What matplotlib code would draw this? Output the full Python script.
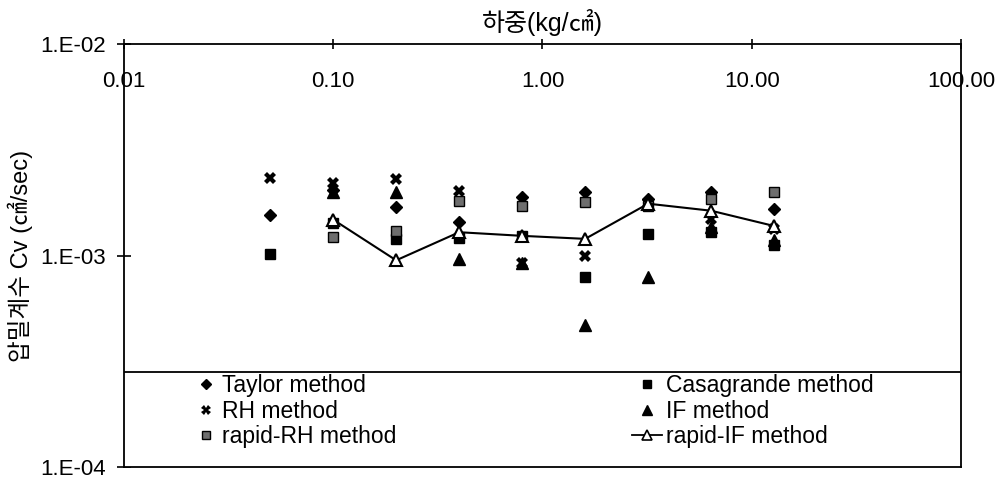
import matplotlib
matplotlib.use("Agg")
import matplotlib.pyplot as plt
import numpy as np
from matplotlib.patches import Rectangle
from matplotlib.lines import Line2D
from matplotlib.ticker import FixedLocator, FuncFormatter, NullLocator

plt.rcParams['font.family'] = ['Liberation Sans', 'Noto Sans CJK KR', 'DejaVu Sans']

# load steps (kg/cm2) and Cv values
load = [0.05, 0.1, 0.2, 0.4, 0.8, 1.6, 3.2, 6.4, 12.8]
nan = np.nan
taylor = [1.55e-3, 2.05e-3, 1.69e-3, 1.44e-3, 1.90e-3, 1.99e-3, 1.86e-3, 1.99e-3, 1.67e-3]
casagrande = [1.02e-3, 1.42e-3, 1.20e-3, 1.21e-3, 1.24e-3, 0.794e-3, 1.26e-3, 1.30e-3, 1.12e-3]
rh = [2.34e-3, 2.20e-3, 2.30e-3, 2.03e-3, 0.92e-3, 0.996e-3, 1.78e-3, 1.49e-3, 1.34e-3]
if_method = [nan, 2.0e-3, 1.99e-3, 0.968e-3, 0.92e-3, 0.471e-3, 0.794e-3, 1.37e-3, 1.19e-3]
rapid_rh = [nan, 1.23e-3, 1.31e-3, 1.82e-3, 1.71e-3, 1.79e-3, 1.72e-3, 1.85e-3, 1.99e-3]
rapid_if = [nan, 1.48e-3, 0.95e-3, 1.29e-3, 1.24e-3, 1.20e-3, 1.76e-3, 1.63e-3, 1.38e-3]

x_ticks = [0.01, 0.1, 1, 10, 100]
y_ticks = [1e-4, 1e-3, 1e-2]

fig = plt.figure(figsize=(9.99, 4.8), dpi=100)
ax = fig.add_axes([0.124, 0.027, 0.838, 0.881])
ax.set_xscale('log')
ax.set_yscale('log')
ax.set_xlim(0.01, 100)
ax.set_ylim(1e-4, 1e-2)

grey = '#6e6e6e'
ax.plot(load, taylor, ls='none', marker='D', ms=6, color='k')
ax.plot(load, casagrande, ls='none', marker='s', ms=7, color='k')
ax.plot(load, rh, ls='none', marker='X', ms=8, color='k', mew=0)
ax.plot(load, if_method, ls='none', marker='^', ms=8, color='k')
ax.plot(load, rapid_rh, ls='none', marker='s', ms=7, mfc=grey, mec='k', mew=1)
ax.plot(load, rapid_if, ls='-', lw=1.5, marker='^', ms=8, color='k', mfc='white', mew=1.5)

# x axis: ticks on the top spine, labels drawn just below it
ax.xaxis.set_major_locator(FixedLocator(x_ticks))
ax.xaxis.set_minor_locator(NullLocator())
ax.xaxis.set_major_formatter(FuncFormatter(lambda v, p: f"{v:.2f}"))
ax.tick_params(axis='x', top=True, bottom=False, labeltop=True, labelbottom=False,
               direction='inout', length=7, width=1.2, pad=-38, labelsize=16)
ax.xaxis.set_label_position('top')
ax.set_xlabel('하중(kg/㎠)', fontsize=18, labelpad=6)

ax.yaxis.set_major_locator(FixedLocator(y_ticks))
ax.yaxis.set_minor_locator(NullLocator())
ax.yaxis.set_major_formatter(FuncFormatter(lambda v, p: f"1.E-{int(round(-np.log10(v))):02d}"))
ax.tick_params(axis='y', direction='inout', length=10, width=1.2, pad=8, labelsize=16)
ax.set_ylabel('압밀계수 Cv (㎠/sec)', fontsize=17)
ax.yaxis.set_label_coords(-0.108, 0.5)

for s in ax.spines.values():
    s.set_linewidth(1.3)

# legend box across the bottom of the plot
ax.add_patch(Rectangle((0, 0), 1, 0.225, transform=ax.transAxes, facecolor='white',
                       edgecolor='k', lw=1.3, zorder=3))

h_left = [Line2D([], [], ls='none', marker='D', ms=5, color='k'),
          Line2D([], [], ls='none', marker='X', ms=7, color='k', mew=0),
          Line2D([], [], ls='none', marker='s', ms=6, mfc=grey, mec='k', mew=1)]
h_right = [Line2D([], [], ls='none', marker='s', ms=6, color='k'),
           Line2D([], [], ls='none', marker='^', ms=7, color='k'),
           Line2D([], [], ls='-', lw=1.3, marker='^', ms=7, color='k', mfc='white', mew=1.2)]

leg1 = ax.legend(h_left, ['Taylor method', 'RH method', 'rapid-RH method'],
                 loc='upper left', bbox_to_anchor=(195 / 999, 1 - 374 / 480),
                 bbox_transform=fig.transFigure, frameon=False, fontsize=16.5,
                 handlelength=1.0, handletextpad=0.2, labelspacing=0.12,
                 borderpad=0, borderaxespad=0, numpoints=1)
leg1.set_zorder(4)
ax.add_artist(leg1)
leg2 = ax.legend(h_right, ['Casagrande method', 'IF method', 'rapid-IF method'],
                 loc='upper left', bbox_to_anchor=(632 / 999, 1 - 374 / 480),
                 bbox_transform=fig.transFigure, frameon=False, fontsize=16.5,
                 handlelength=1.3, handletextpad=0.2, labelspacing=0.12,
                 borderpad=0, borderaxespad=0, numpoints=1)
leg2.set_zorder(4)

fig.savefig('out.png', dpi=100)
